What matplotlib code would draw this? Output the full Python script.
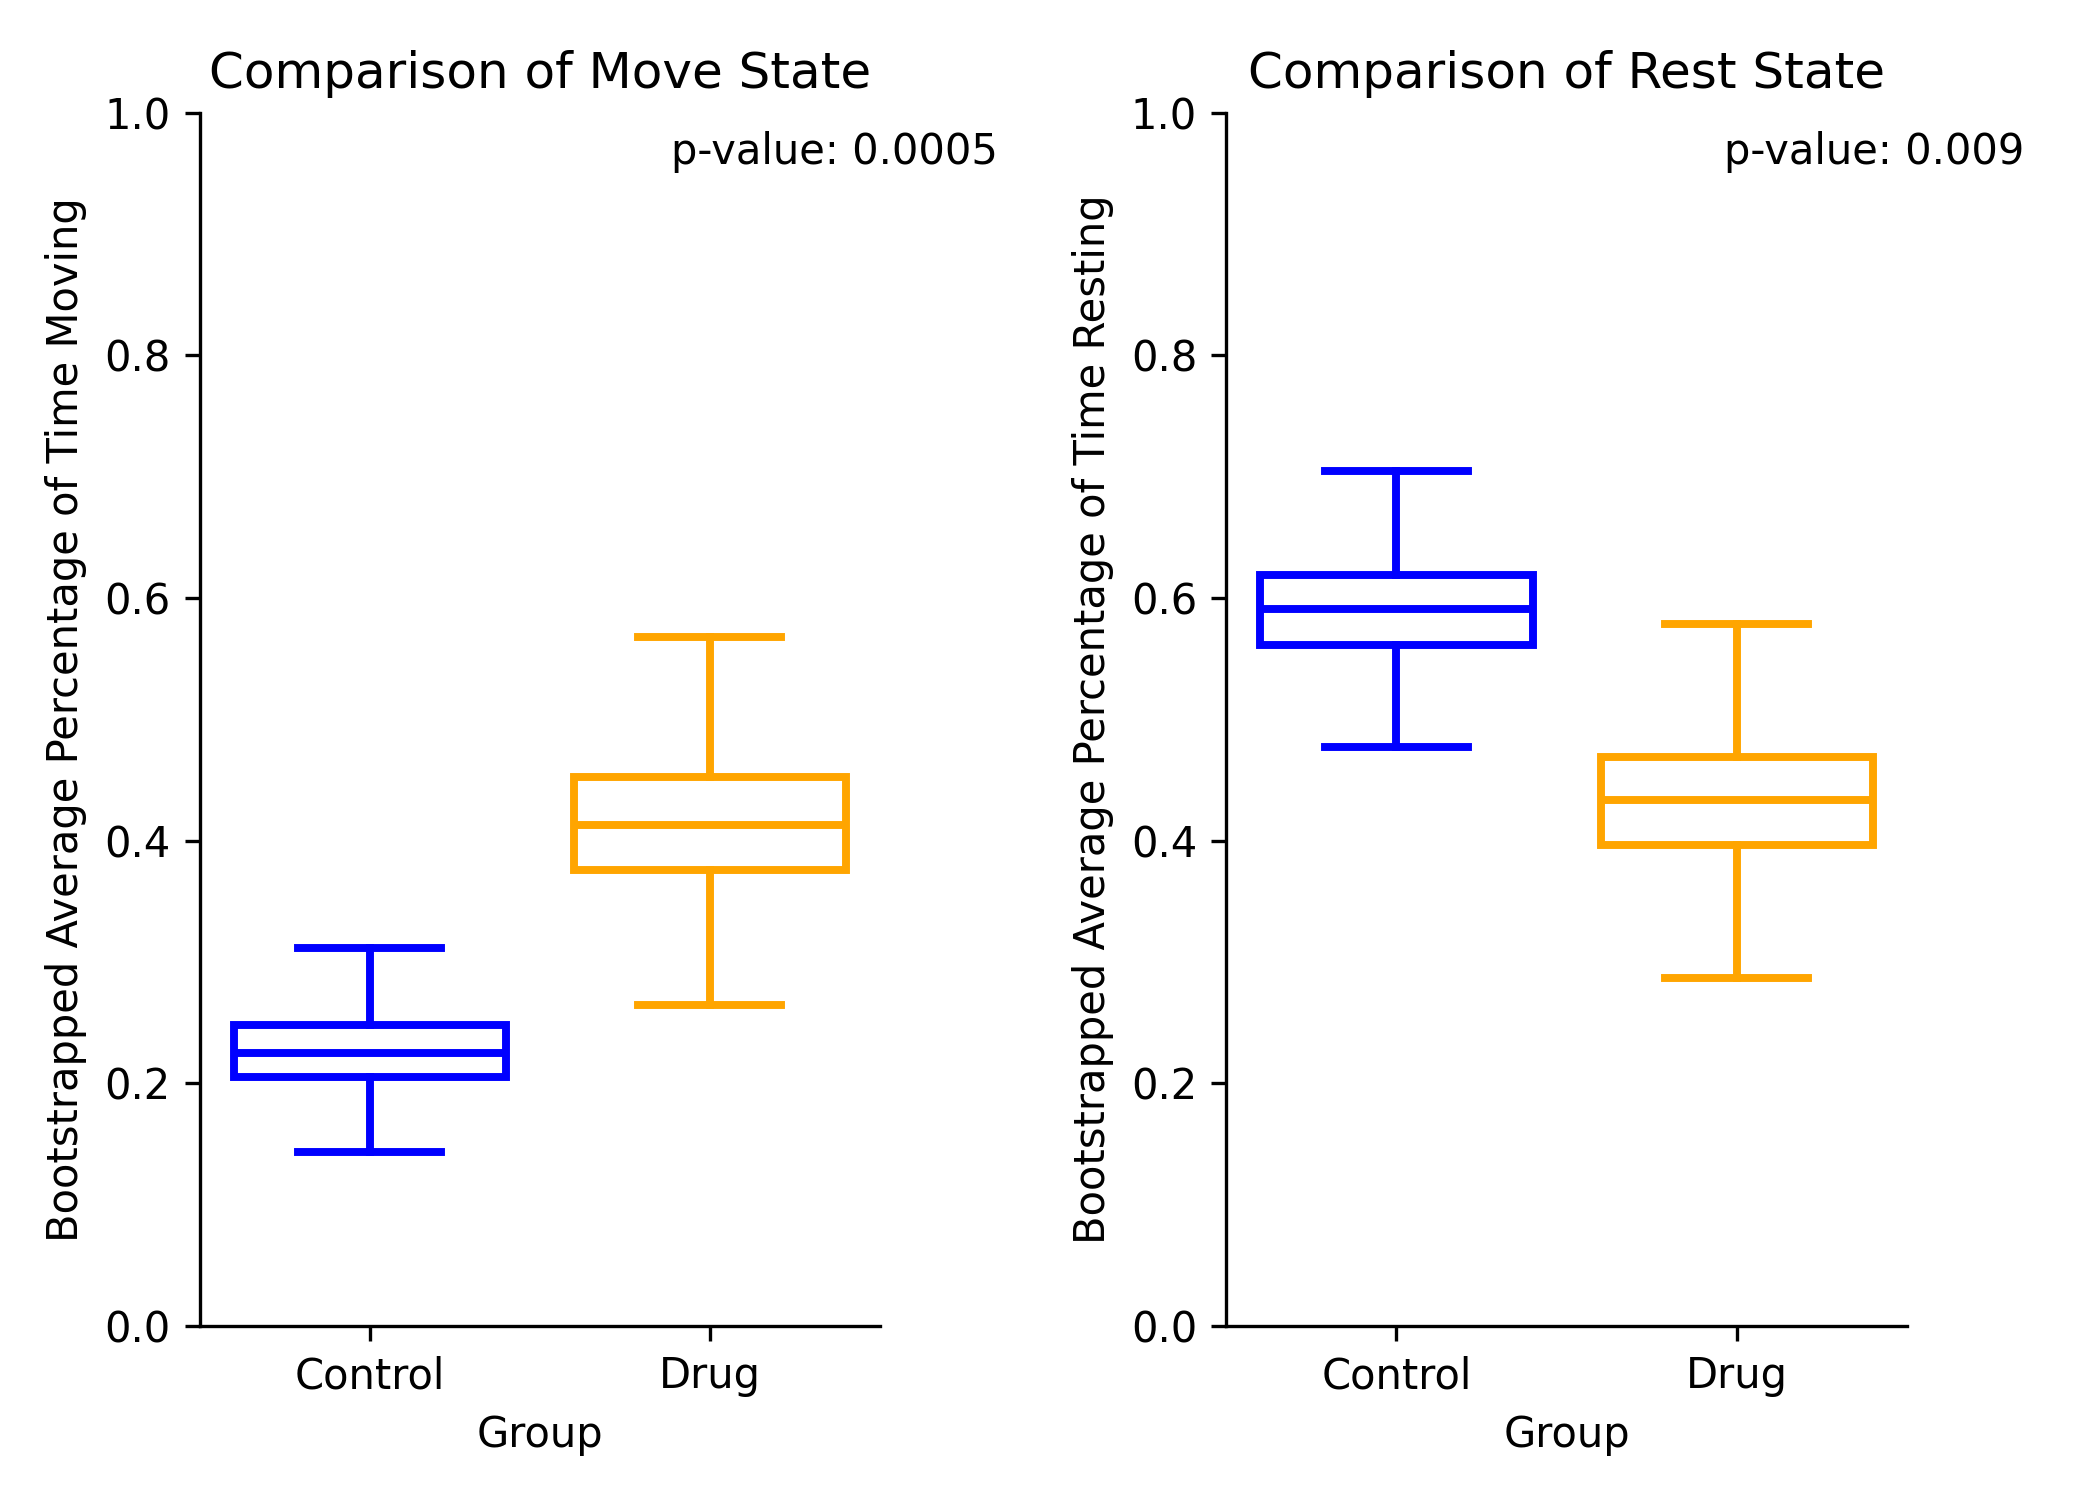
import matplotlib
matplotlib.use("Agg")
import matplotlib.pyplot as plt

groups = ["Control", "Drug"]
colors = ["#0000ff", "#ffa500"]

# Move state: [whislo, q1, median, q3, whishi]
move_control = [0.1436, 0.2054, 0.2248, 0.2478, 0.3115]
move_drug = [0.2646, 0.3757, 0.4126, 0.4523, 0.5676]
# Rest state
rest_control = [0.4770, 0.5610, 0.5912, 0.6185, 0.7046]
rest_drug = [0.2870, 0.3965, 0.4332, 0.4693, 0.5789]

move_p = "p-value: 0.0005"
rest_p = "p-value: 0.009"

panels = [
    ("Comparison of Move State", "Bootstrapped Average Percentage of Time Moving",
     [move_control, move_drug], move_p),
    ("Comparison of Rest State", "Bootstrapped Average Percentage of Time Resting",
     [rest_control, rest_drug], rest_p),
]

fig, axes = plt.subplots(1, 2, figsize=(7, 5), dpi=300)
fig.subplots_adjust(left=0.095, right=0.908, bottom=0.116, top=0.925, wspace=0.509)

for ax, (title, ylabel, data, ptxt) in zip(axes, panels):
    for i, (vals, col) in enumerate(zip(data, colors)):
        st = dict(whislo=vals[0], q1=vals[1], med=vals[2], q3=vals[3], whishi=vals[4],
                  fliers=[], label=groups[i])
        ax.bxp([st], positions=[i], widths=0.8, showfliers=False, patch_artist=True,
               boxprops=dict(facecolor="white", edgecolor=col, linewidth=1.9),
               whiskerprops=dict(color=col, linewidth=1.9),
               capprops=dict(color=col, linewidth=1.9),
               medianprops=dict(color=col, linewidth=1.9),
               capwidths=0.42)
    ax.set_xlim(-0.5, 1.5)
    ax.set_ylim(0, 1.0)
    ax.set_xticks([0, 1])
    ax.set_xticklabels(groups)
    ax.set_yticks([0.0, 0.2, 0.4, 0.6, 0.8, 1.0])
    ax.set_xlabel("Group")
    ax.set_ylabel(ylabel)
    ax.set_title(title)
    ax.spines["top"].set_visible(False)
    ax.spines["right"].set_visible(False)
    ax.text(1.173, 0.95, ptxt, transform=ax.transAxes, va="bottom", ha="right", fontsize=10)

fig.savefig("out.png", dpi=300)
